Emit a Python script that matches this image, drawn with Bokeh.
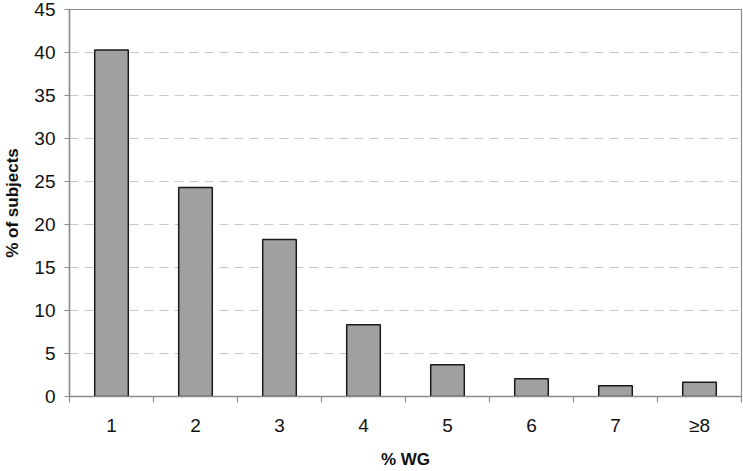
from bokeh.plotting import figure
from bokeh.models import FixedTicker, Range1d, ColumnDataSource
from bokeh.embed import file_html
from bokeh.resources import INLINE

categories = ["1", "2", "3", "4", "5", "6", "7", "≥8"]
positions = [1, 2, 3, 4, 5, 6, 7, 8]
percent_subjects = [40.3, 24.3, 18.25, 8.35, 3.7, 2.05, 1.25, 1.65]
y_ticks = [0, 5, 10, 15, 20, 25, 30, 35, 40, 45]
x_title = "% WG"
y_title = "% of subjects"

src = ColumnDataSource(dict(x=positions, top=percent_subjects))

x_lo, x_hi = positions[0] - 0.5, positions[-1] + 0.5
p = figure(width=743, height=471, output_backend="svg", toolbar_location=None,
           x_range=Range1d(x_lo, x_hi), y_range=Range1d(y_ticks[0], y_ticks[-1]),
           min_border_left=67, min_border_right=2, min_border_top=9, min_border_bottom=73)

p.vbar(x="x", top="top", width=0.4, source=src, fill_color="#a0a0a0",
       line_color="#1a1a1a", line_width=1.5)

FONT = "Liberation Sans"
GRID = "#c8c8c8"
AX = "#8c8c8c"

p.outline_line_color = AX
p.outline_line_width = 1.2
p.xgrid.grid_line_color = None
p.ygrid.grid_line_color = GRID
p.ygrid.grid_line_dash = "9 6"
p.ygrid.grid_line_width = 1

p.yaxis.ticker = FixedTicker(ticks=y_ticks)
p.xaxis.ticker = FixedTicker(ticks=positions, minor_ticks=[pp - 0.5 for pp in positions] + [x_hi])
p.xaxis.major_label_overrides = {pos: lab for pos, lab in zip(positions, categories)}

for ax in (p.xaxis[0], p.yaxis[0]):
    ax.axis_line_color = AX
    ax.axis_line_width = 1.5
    ax.major_label_text_font = FONT
    ax.major_label_text_font_size = "19px"
    ax.major_label_text_color = "#111111"
    ax.axis_label_text_font = FONT
    ax.axis_label_text_font_size = "17px"
    ax.axis_label_text_font_style = "bold"
    ax.axis_label_text_color = "#111111"

p.xaxis.major_tick_out = 0
p.xaxis.major_tick_in = 0
p.xaxis.minor_tick_out = 6
p.xaxis.minor_tick_in = 0
p.xaxis.minor_tick_line_color = AX
p.xaxis.minor_tick_line_width = 1.2
p.xaxis.major_label_standoff = 12
p.xaxis.axis_label = x_title
p.xaxis.axis_label_standoff = 11

p.yaxis.major_tick_out = 5
p.yaxis.major_tick_in = 0
p.yaxis.major_tick_line_color = AX
p.yaxis.major_tick_line_width = 1.2
p.yaxis.minor_tick_line_color = None
p.yaxis.major_label_standoff = 9
p.yaxis.axis_label = y_title
p.yaxis.axis_label_standoff = 9

open("out.html", "w").write(file_html(p, INLINE))
